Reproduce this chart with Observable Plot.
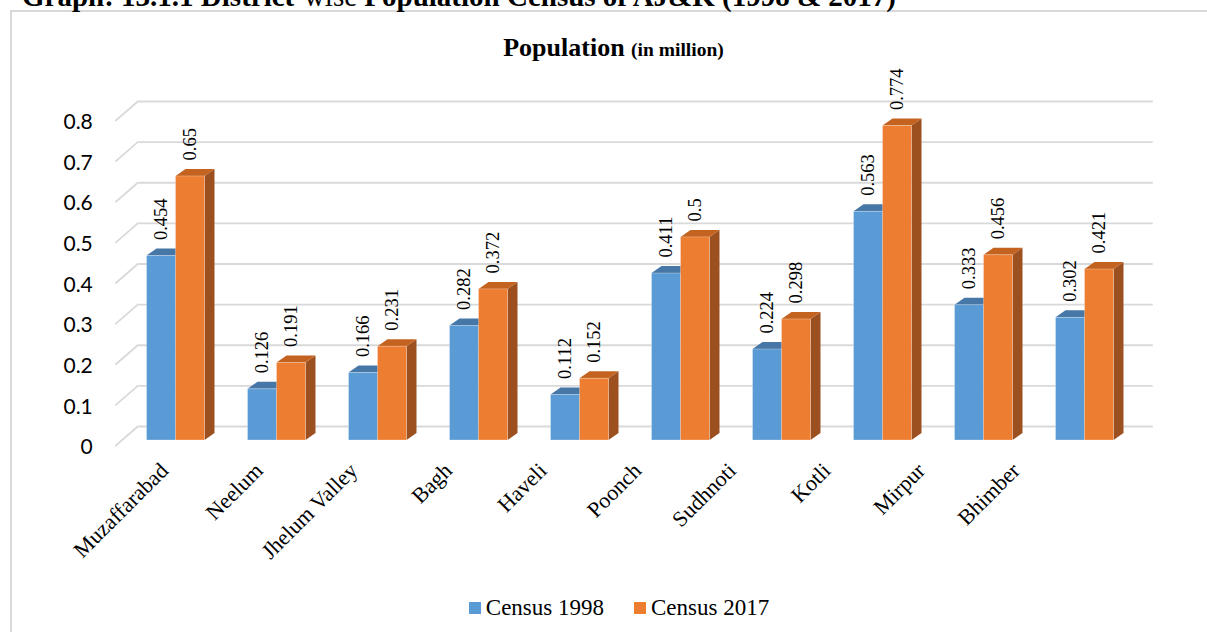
<!DOCTYPE html>
<html>
<head>
<meta charset="utf-8">
<script src="https://cdn.jsdelivr.net/npm/d3@7"></script>
<script src="https://cdn.jsdelivr.net/npm/@observablehq/plot@0.6"></script>
<style>
  html, body { margin: 0; padding: 0; background: #fff; }
  body { width: 1207px; height: 632px; overflow: hidden; position: relative; font-family: "Liberation Serif", "Times New Roman", serif; color: #000; }
  #frame { position: absolute; left: 10px; top: 10px; width: 1230px; height: 660px; border: 2px solid #d9d9d9; box-sizing: border-box; }
  #graphTitle { position: absolute; left: 22px; top: -18px; font-size: 29px; line-height: 29px; font-weight: bold; white-space: nowrap; }
  #chart { position: absolute; left: 0; top: 0; }
  #title { position: absolute; left: 0; width: 1227px; top: 35px; text-align: center; font-size: 26px; line-height: 26px; font-weight: bold; white-space: nowrap; }
  #title span { font-size: 19.5px; }
  #legend { position: absolute; left: 0; width: 1238px; top: 596px; text-align: center; font-size: 23px; line-height: 23px; white-space: nowrap; }
  #legend .item { display: inline-block; margin: 0 15px; }
  #legend .sw { display: inline-block; width: 12px; height: 12px; margin-right: 5px; vertical-align: 1px; }
</style>
</head>
<body>
<div id="frame"></div>
<div id="graphTitle">Graph: 13.1.1 District-<span style="font-weight:normal">wise</span> Population Census of AJ&amp;K (1998 &amp; 2017)</div>
<div id="chart"></div>
<div id="title">Population <span>(in million)</span></div>
<div id="legend"></div>
<script>
// ---- data ----
const districts = ["Muzaffarabad", "Neelum", "Jhelum Valley", "Bagh", "Haveli", "Poonch", "Sudhnoti", "Kotli", "Mirpur", "Bhimber"];
const census1998 = [0.454, 0.126, 0.166, 0.282, 0.112, 0.411, 0.224, 0.563, 0.333, 0.302];
const census2017 = [0.65, 0.191, 0.231, 0.372, 0.152, 0.5, 0.298, 0.774, 0.456, 0.421];
const seriesNames = ["Census 1998", "Census 2017"];
const yTicks = [0, 0.1, 0.2, 0.3, 0.4, 0.5, 0.6, 0.7, 0.8];

// ---- styles ----
const frontColor = {"Census 1998": "#5b9bd5", "Census 2017": "#ed7d31"};
const topColor   = {"Census 1998": "#4677a6", "Census 2017": "#c4631f"};
const sideColor  = {"Census 1998": "#3d6a94", "Census 2017": "#9c5020"};
const DEPTH_X = 10, DEPTH_Y = 7;     // bar extrusion (px)
const WALL_X = 16, WALL_Y = 14;      // back wall offset from bar front (px)
const FLOOR_X = 7, FLOOR_Y = 6;      // front edge offset (px)
const gridColor = "#d9d9d9";

const rows = districts.flatMap((d, i) => [
  {district: d, series: seriesNames[0], value: census1998[i]},
  {district: d, series: seriesNames[1], value: census2017[i]}
]);
const rows98 = rows.filter(r => r.series === seriesNames[0]);
const rows17 = rows.filter(r => r.series === seriesNames[1]);

function getScale(scales, name) {
  const s = scales[name];
  if (typeof s === "function") return s;
  return scales.scales[name].apply;
}
function getBandwidth(scales, name) {
  const s = scales[name];
  if (s && typeof s.bandwidth === "function") return s.bandwidth();
  if (scales.scales && scales.scales[name]) return scales.scales[name].bandwidth;
  return 0;
}

// perspective floor diagonals (front edge -> back wall) for each gridline
function floorDiagonals(index, scales, values, dims) {
  const Y = getScale(scales, "y");
  const x0 = dims.marginLeft;
  const g = d3.create("svg:g");
  for (const t of yTicks) {
    g.append("line")
      .attr("x1", x0 - FLOOR_X).attr("y1", Y(t) + FLOOR_Y)
      .attr("x2", x0 + WALL_X).attr("y2", Y(t) - WALL_Y)
      .attr("stroke", gridColor).attr("stroke-width", 1.8);
  }
  return g.node();
}

// 3D top and side faces of each bar
function barFaces(index, scales, values, dims) {
  const X = getScale(scales, "x"), Y = getScale(scales, "y");
  const bw = getBandwidth(scales, "x");
  const g = d3.create("svg:g");
  for (const r of rows) {
    const off = r.series === seriesNames[0] ? -bw / 2 : bw / 2;
    const L = X(r.district) + off, R = L + bw, T = Y(r.value), B = Y(0);
    g.append("path")
      .attr("d", `M${R},${T}L${R + DEPTH_X},${T - DEPTH_Y}L${R + DEPTH_X},${B - DEPTH_Y}L${R},${B}Z`)
      .attr("fill", sideColor[r.series]);
    g.append("path")
      .attr("d", `M${L},${T}L${R},${T}L${R + DEPTH_X},${T - DEPTH_Y}L${L + DEPTH_X},${T - DEPTH_Y}Z`)
      .attr("fill", topColor[r.series]);
  }
  return g.node();
}

// category labels on the (perspective-compressed) front floor edge
function categoryLabels(index, scales, values, dims) {
  const X = getScale(scales, "x"), Y = getScale(scales, "y");
  const bw = getBandwidth(scales, "x");
  const g = d3.create("svg:g")
    .attr("font-family", '"Liberation Serif", "Times New Roman", serif')
    .attr("font-size", 22).attr("fill", "#000").attr("text-anchor", "end");
  for (const d of districts) {
    const c = X(d) + bw / 2;
    const px = c * 0.937 + 5;
    const py = Y(0) + 32;
    g.append("text")
      .attr("transform", `translate(${px},${py}) rotate(-45)`)
      .text(d);
  }
  return g.node();
}

const chart = Plot.plot({
  width: 1207,
  height: 632,
  marginLeft: 122.3,
  marginRight: 70.3,
  marginTop: 115,
  marginBottom: 192,
  style: {background: "none", overflow: "visible"},
  x: {domain: districts, type: "band", paddingInner: 0.714, paddingOuter: 0.357, axis: null},
  y: {domain: [0, 0.8], axis: null},
  marks: [
    Plot.ruleY(yTicks, {dx: WALL_X, dy: -WALL_Y, stroke: gridColor, strokeWidth: 1.8}),
    floorDiagonals,
    Plot.axisY(yTicks, {tickSize: 0, tickPadding: 30, dy: 7, tickFormat: d => String(d), label: null,
      fontSize: 21, fontFamily: "Lato, 'Open Sans', sans-serif", fill: "#000"}),
    barFaces,
    Plot.barY(rows98, {x: "district", y: "value", fill: frontColor[seriesNames[0]], dx: -14.5, inset: 0,
      stroke: "#ffffff", strokeOpacity: 0.35, strokeWidth: 0.8}),
    Plot.barY(rows17, {x: "district", y: "value", fill: frontColor[seriesNames[1]], dx: 14.5, inset: 0,
      stroke: "#ffffff", strokeOpacity: 0.35, strokeWidth: 0.8}),
    Plot.text(rows98, {x: "district", y: "value", text: d => String(d.value), rotate: -90, textAnchor: "start",
      dx: -14.5, dy: -16, fontSize: 18.5, fontFamily: "'Liberation Serif', 'Times New Roman', serif", fill: "#000"}),
    Plot.text(rows17, {x: "district", y: "value", text: d => String(d.value), rotate: -90, textAnchor: "start",
      dx: 14.5, dy: -16, fontSize: 18.5, fontFamily: "'Liberation Serif', 'Times New Roman', serif", fill: "#000"}),
    categoryLabels
  ]
});
document.getElementById("chart").appendChild(chart);

// legend
const legend = document.getElementById("legend");
for (const s of seriesNames) {
  const item = document.createElement("span");
  item.className = "item";
  const sw = document.createElement("span");
  sw.className = "sw";
  sw.style.background = frontColor[s];
  item.appendChild(sw);
  item.appendChild(document.createTextNode(s));
  legend.appendChild(item);
}
</script>
</body>
</html>
